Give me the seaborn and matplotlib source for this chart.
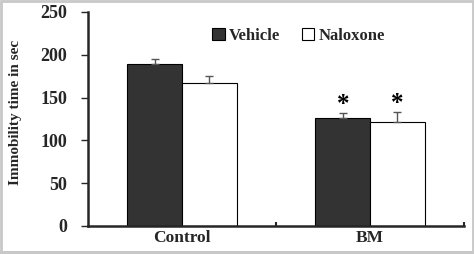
import matplotlib
matplotlib.use("Agg")
import matplotlib.pyplot as plt
import seaborn as sns
import pandas as pd
from matplotlib.patches import Rectangle

categories = ["Control", "BM"]
groups = ["Vehicle", "Naloxone"]
vehicle = [189, 126]
naloxone = [167, 122]
vehicle_err = [6, 6]
naloxone_err = [8, 11]
significant = {("BM", "Vehicle"): True, ("BM", "Naloxone"): True}
yticks = [0, 50, 100, 150, 200, 250]

df = pd.DataFrame({
    "cat": categories * 2,
    "grp": [groups[0]] * 2 + [groups[1]] * 2,
    "val": vehicle + naloxone,
    "err": vehicle_err + naloxone_err,
})

sns.set_style("ticks")
plt.rcParams["font.family"] = ["Liberation Serif", "DejaVu Serif"]
plt.rcParams["font.weight"] = "bold"

fig = plt.figure(figsize=(4.74, 2.54), dpi=100)
ax = fig.add_axes([88 / 474, 1 - 226 / 254, (464 - 88) / 474, (226 - 12) / 254])

sns.barplot(data=df, x="cat", y="val", hue="grp", order=categories, hue_order=groups,
            palette={"Vehicle": "#333333", "Naloxone": "white"}, width=0.58,
            edgecolor="black", linewidth=0.8, errorbar=None, ax=ax, saturation=1)

# error bars and stars
for container, g in zip(ax.containers, groups):
    sub = df[df.grp == g].set_index("cat").loc[categories]
    for bar, c in zip(container, categories):
        x = bar.get_x() + bar.get_width() / 2
        v = sub.loc[c, "val"]
        e = sub.loc[c, "err"]
        ax.errorbar(x, v, yerr=[[0], [e]], fmt="none", ecolor="#555555",
                    elinewidth=1, capsize=3, capthick=1)
        if significant.get((c, g)):
            ax.text(x, v + e - 3, "*", ha="center", va="bottom", fontsize=18,
                    fontweight="bold", color="black")

ax.set_xlim(-0.5, 1.5)
ax.set_ylim(0, 250)
ax.set_yticks(yticks)
ax.set_xticks([0.5, 1.5], minor=True)
ax.tick_params(axis="x", which="major", length=0, pad=3, labelsize=12.5)
ax.tick_params(axis="x", which="minor", length=3, width=1.5, direction="in")
ax.tick_params(axis="y", length=5, width=1, labelsize=13, direction="out", pad=10)
for lbl in ax.get_xticklabels() + ax.get_yticklabels():
    lbl.set_fontweight("bold")
ax.set_xlabel("")
ax.set_ylabel("Immobility time in sec", fontsize=11, fontweight="bold", labelpad=8)
ax.yaxis.set_label_coords(-0.175, 0.53)
for s in ["top", "right"]:
    ax.spines[s].set_visible(False)
ax.spines["left"].set_linewidth(1.8)
ax.spines["bottom"].set_linewidth(1.8)

leg = ax.legend(loc="upper center", bbox_to_anchor=(0.56, 0.995), ncol=2, frameon=False,
                handlelength=0.75, handleheight=0.75, handletextpad=0.25, columnspacing=1.3,
                prop={"family": "Liberation Serif", "weight": "bold", "size": 12})
for h in leg.legend_handles:
    h.set_edgecolor("black")

# grey frame
fig.patches.append(Rectangle((0, 0), 1, 3 / 254, transform=fig.transFigure,
                             facecolor="#c8c8c8", edgecolor="none", zorder=0))
fig.patches.append(Rectangle((0.002, 0.002), 0.996, 0.996, transform=fig.transFigure,
                             facecolor="none", edgecolor="#c8c8c8", linewidth=2, zorder=0))

fig.savefig("out.png", dpi=100)
